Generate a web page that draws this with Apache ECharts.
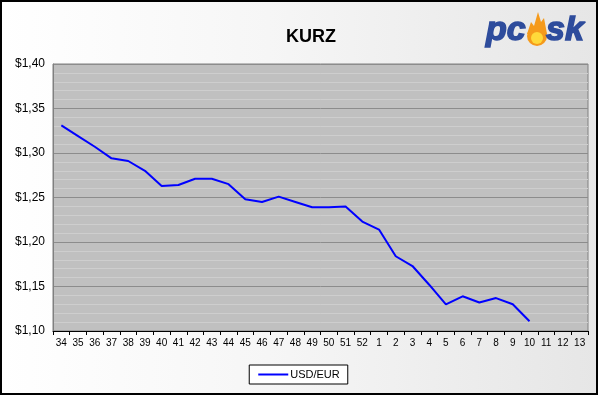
<!DOCTYPE html>
<html>
<head>
<meta charset="utf-8">
<script src="https://cdn.jsdelivr.net/npm/echarts@6/dist/echarts.min.js"></script>
<style>
html,body{margin:0;padding:0;}
body{background:linear-gradient(to right,#ffffff 0%,#f6f6f6 45%,#e6e6e6 100%);width:598px;height:395px;overflow:hidden;}
#c{width:598px;height:395px;}
</style>
</head>
<body>
<div id="c"></div>
<script>
const weeks = ['34','35','36','37','38','39','40','41','42','43','44','45','46','47','48','49','50','51','52','1','2','3','4','5','6','7','8','9','10','11','12','13'];
const usdEur = [1.331,1.319,1.307,1.294,1.291,1.280,1.263,1.264,1.271,1.271,1.265,1.248,1.245,1.251,1.245,1.239,1.239,1.240,1.223,1.214,1.184,1.173,1.152,1.130,1.139,1.132,1.137,1.130,1.111,null,null,null];
const titleText = 'KURZ';
const seriesName = 'USD/EUR';

const chart = echarts.init(document.getElementById('c'), null, {renderer:'canvas'});
chart.setOption({
  animation:false,
  backgroundColor:'transparent',
  title:{text:titleText,left:306,top:23,textAlign:'center',
    textStyle:{fontFamily:'Liberation Sans',fontSize:18,fontWeight:'bold',color:'#000'}},
  grid:{left:53,right:10,top:64,bottom:64,show:true,backgroundColor:'#c0c0c0',borderColor:'#808080',borderWidth:1,containLabel:false},
  legend:{bottom:11,left:'center',data:[{name:seriesName,icon:'rect'}],itemWidth:30,itemHeight:2,itemGap:4,
    padding:[4,8,4,9],borderColor:'#000',borderWidth:1,backgroundColor:'#fff',borderRadius:0,
    textStyle:{fontFamily:'Liberation Sans',fontSize:11,color:'#000',padding:[0,0,0,-3]}},
  xAxis:{type:'category',data:weeks,boundaryGap:true,
    axisLine:{lineStyle:{color:'#000',width:1}},
    axisTick:{show:true,interval:0,length:4,lineStyle:{color:'#000'}},
    axisLabel:{interval:0,fontFamily:'Liberation Sans',fontSize:10,color:'#000',margin:7},
    splitLine:{show:false}},
  yAxis:{type:'value',min:1.10,max:1.40,interval:0.05,
    axisLine:{show:true,lineStyle:{color:'#808080'}},
    axisTick:{show:false},
    axisLabel:{fontFamily:'Liberation Sans',fontSize:12,color:'#000',margin:8,
      formatter:v=>'$'+v.toFixed(2).replace('.',',')},
    splitLine:{show:true,lineStyle:{color:'#8c8c8c',width:1}},
    minorTick:{show:false,splitNumber:5},
    minorSplitLine:{show:true,lineStyle:{color:'#cecece',width:1}}},
  series:[{name:seriesName,type:'line',data:usdEur,symbol:'none',showSymbol:false,
    lineStyle:{color:'#0000ff',width:2},itemStyle:{color:'#0000ff'},connectNulls:false}],
  graphic:[
    {type:'rect',shape:{x:1,y:1,width:596,height:393},style:{fill:'none',stroke:'#000',lineWidth:2},z:100,silent:true},
    {type:'text',x:486,y:14,style:{text:'pc',fontFamily:'Liberation Sans',fontStyle:'italic',fontWeight:'bold',fontSize:34,fill:'#2e4c9c',stroke:'#2e4c9c',lineWidth:1.5}},
    {type:'polygon',shape:{points:[[527,34],[531,22],[534,26],[538,12],[541,22],[544,18],[547,34]]},style:{fill:'#f59a1b'}},
    {type:'circle',shape:{cx:537,cy:36,r:10},style:{fill:'#f59a1b'}},
    {type:'circle',shape:{cx:537,cy:38,r:6},style:{fill:'#ffd93a'}},
    {type:'text',x:546,y:14,style:{text:'sk',fontFamily:'Liberation Sans',fontStyle:'italic',fontWeight:'bold',fontSize:34,fill:'#2e4c9c',stroke:'#2e4c9c',lineWidth:1.5}}
  ]
});
</script>
</body>
</html>
